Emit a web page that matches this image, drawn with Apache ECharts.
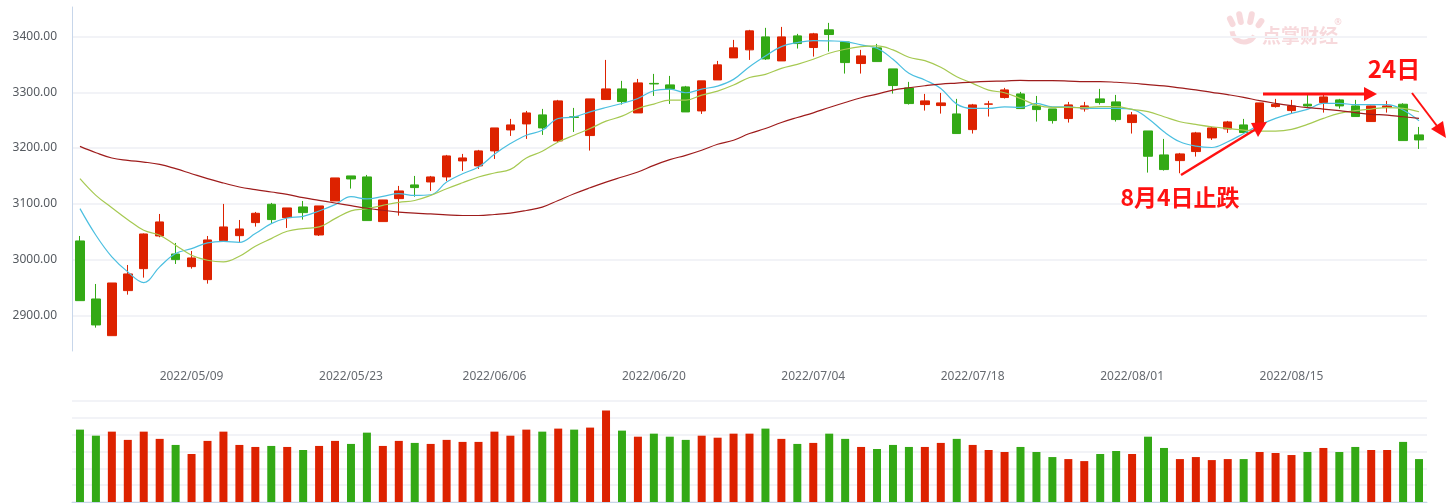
<!DOCTYPE html>
<html><head><meta charset="utf-8">
<script src="https://cdn.jsdelivr.net/npm/echarts/dist/echarts.min.js"></script>
<style>html,body{margin:0;padding:0;background:#fff}#c{width:1451px;height:503px}</style>
</head><body><div id="c"></div>
<script>
const dates = ['2022/04/25','2022/04/26','2022/04/27','2022/04/28','2022/04/29',
'2022/05/05','2022/05/06','2022/05/09','2022/05/10','2022/05/11','2022/05/12','2022/05/13','2022/05/16','2022/05/17','2022/05/18','2022/05/19','2022/05/20','2022/05/23','2022/05/24','2022/05/25','2022/05/26','2022/05/27','2022/05/30','2022/05/31',
'2022/06/01','2022/06/02','2022/06/06','2022/06/07','2022/06/08','2022/06/09','2022/06/10','2022/06/13','2022/06/14','2022/06/15','2022/06/16','2022/06/17','2022/06/20','2022/06/21','2022/06/22','2022/06/23','2022/06/24','2022/06/27','2022/06/28','2022/06/29','2022/06/30',
'2022/07/01','2022/07/04','2022/07/05','2022/07/06','2022/07/07','2022/07/08','2022/07/11','2022/07/12','2022/07/13','2022/07/14','2022/07/15','2022/07/18','2022/07/19','2022/07/20','2022/07/21','2022/07/22','2022/07/25','2022/07/26','2022/07/27','2022/07/28','2022/07/29',
'2022/08/01','2022/08/02','2022/08/03','2022/08/04','2022/08/05','2022/08/08','2022/08/09','2022/08/10','2022/08/11','2022/08/12','2022/08/15','2022/08/16','2022/08/17','2022/08/18','2022/08/19','2022/08/22','2022/08/23','2022/08/24','2022/08/25'];

const openP = [3033.4,2929.3,2863.5,2944.3,2983.7,3042.3,3010.0,2987.3,2964.0,3034.0,3042.9,3066.3,3099.2,3075.2,3094.4,3044.1,3105.1,3150.0,3148.2,3068.1,3109.3,3133.9,3139.2,3148.2,3176.9,3168.0,3194.9,3232.5,3243.3,3259.5,3212.8,3256.0,3222.4,3287.0,3306.1,3263.0,3316.0,3313.3,3309.7,3266.6,3322.2,3361.7,3376.1,3399.4,3356.3,3401.2,3380.3,3412.0,3390.4,3351.6,3379.7,3342.0,3307.9,3278.0,3276.2,3261.2,3233.1,3278.6,3290.6,3297.1,3275.6,3270.2,3252.9,3270.2,3288.2,3282.8,3245.7,3230.7,3187.7,3177.5,3193.7,3218.2,3234.3,3241.5,3239.7,3274.4,3267.2,3278.6,3281.6,3286.4,3275.6,3247.5,3272.6,3278.6,3223.6];
const closeP = [2926.3,2882.7,2958.0,2974.2,3045.9,3067.5,2999.9,3002.9,3035.2,3058.5,3054.9,3083.0,3071.7,3092.6,3084.2,3096.2,3146.4,3144.6,3069.9,3106.9,3123.1,3129.1,3148.2,3185.9,3182.3,3194.9,3236.1,3241.5,3263.0,3236.1,3284.6,3255.0,3288.2,3306.1,3283.4,3316.9,3315.0,3306.1,3264.8,3320.5,3349.2,3379.7,3410.2,3359.9,3399.4,3387.4,3404.8,3403.6,3353.3,3365.3,3355.1,3312.1,3279.8,3284.6,3281.0,3226.0,3277.4,3279.2,3304.3,3270.8,3269.0,3249.3,3277.4,3275.6,3281.6,3251.1,3259.5,3185.3,3161.4,3189.5,3227.2,3236.1,3246.9,3227.8,3281.0,3278.6,3275.6,3275.6,3291.7,3275.6,3256.5,3275.6,3275.6,3213.4,3214.6];
const lowP = [2926.3,2877.9,2863.5,2937.1,2967.6,3040.0,2992.1,2983.7,2956.8,3034.0,3031.6,3059.1,3063.9,3056.7,3071.7,3042.3,3105.1,3127.3,3069.9,3068.1,3078.8,3112.7,3123.1,3141.0,3159.0,3162.6,3180.5,3221.8,3216.4,3223.6,3211.0,3228.9,3195.5,3287.0,3278.0,3263.0,3293.5,3279.2,3264.8,3261.2,3322.2,3361.7,3358.1,3358.1,3356.3,3378.5,3364.1,3373.1,3333.6,3333.6,3355.1,3297.7,3278.0,3267.2,3261.8,3226.0,3226.0,3256.5,3288.8,3270.8,3247.5,3243.9,3245.7,3265.4,3278.0,3247.5,3226.0,3156.0,3159.6,3154.8,3184.7,3214.6,3227.2,3227.8,3237.5,3272.6,3261.8,3273.8,3263.6,3270.8,3256.5,3247.5,3263.6,3213.4,3198.4];
const highP = [3042.3,2956.2,2958.0,2990.3,3046.8,3081.8,3029.8,3015.4,3042.3,3099.8,3071.0,3085.4,3101.6,3092.6,3105.1,3096.2,3146.4,3150.0,3151.8,3107.0,3132.1,3150.0,3150.0,3187.7,3189.5,3196.7,3236.1,3252.3,3266.6,3270.2,3286.4,3272.0,3288.2,3358.1,3320.5,3324.0,3333.0,3329.4,3311.5,3320.5,3356.3,3394.0,3412.0,3415.6,3417.3,3404.8,3406.6,3424.5,3390.4,3376.1,3386.8,3342.0,3318.7,3297.1,3298.9,3288.2,3279.2,3284.6,3307.9,3300.7,3293.5,3270.2,3282.8,3282.8,3306.1,3295.3,3264.8,3230.7,3216.4,3191.3,3229.0,3237.9,3248.7,3252.3,3281.0,3288.2,3286.4,3295.3,3295.3,3288.2,3286.4,3276.0,3284.6,3280.4,3237.9];

const ma5 = [3091.3,3043.6,3004.8,2977.9,2958.8,2986.9,3010.7,3019.7,3029.9,3032.8,3031.0,3046.6,3064.5,3074.6,3077.6,3087.2,3098.5,3112.8,3108.7,3113.4,3118.2,3115.0,3116.2,3139.0,3154.0,3166.0,3188.8,3208.0,3223.0,3232.0,3253.0,3256.0,3265.0,3272.8,3280.0,3289.0,3302.8,3305.8,3299.2,3305.8,3311.2,3323.2,3346.0,3365.2,3382.0,3389.2,3392.8,3392.2,3391.0,3385.0,3379.0,3359.2,3334.0,3322.0,3307.0,3278.8,3271.0,3271.0,3274.0,3272.8,3280.0,3274.0,3274.0,3271.5,3271.2,3271.2,3269.4,3253.2,3229.2,3211.2,3203.4,3201.0,3211.2,3226.2,3241.2,3253.2,3262.2,3269.4,3280.2,3280.2,3277.8,3277.8,3277.8,3268.2,3249.0];
const ma10 = [3145.1,3115.2,3093.1,3071.6,3052.5,3043.6,3025.7,3007.8,2998.8,2995.8,3006.0,3023.9,3037.6,3050.7,3055.5,3058.5,3073.4,3087.2,3091.3,3097.3,3102.5,3106.0,3115.0,3127.0,3137.8,3148.0,3155.2,3161.8,3182.2,3194.2,3211.0,3223.0,3235.0,3248.2,3257.2,3271.0,3278.8,3286.0,3286.0,3295.0,3302.2,3313.0,3326.5,3332.2,3343.0,3350.2,3359.2,3370.0,3377.2,3382.0,3383.2,3376.0,3362.8,3356.8,3344.8,3328.0,3316.0,3304.0,3299.2,3289.0,3277.0,3272.8,3272.8,3272.5,3274.2,3274.2,3269.4,3265.2,3256.2,3247.2,3242.4,3238.2,3235.2,3232.2,3230.4,3230.4,3233.4,3242.4,3253.2,3262.2,3267.0,3270.0,3272.4,3271.2,3265.2];
const ma30 = [3203.0,3191.6,3182.1,3177.9,3174.9,3170.7,3163.0,3154.0,3145.1,3137.3,3130.1,3125.4,3121.2,3117.0,3111.0,3106.3,3101.5,3096.7,3092.0,3088.4,3085.2,3083.2,3082.0,3080.2,3079.0,3079.0,3080.8,3083.2,3088.0,3094.0,3106.0,3118.0,3128.8,3139.0,3148.0,3157.0,3169.0,3179.2,3187.0,3196.0,3206.8,3214.0,3226.0,3235.0,3245.8,3254.8,3263.2,3272.8,3281.8,3290.2,3296.8,3304.0,3308.2,3311.8,3314.8,3316.6,3318.4,3319.6,3320.2,3321.4,3320.8,3320.8,3320.2,3319.2,3319.2,3318.0,3316.2,3313.8,3311.4,3307.8,3304.2,3300.0,3295.8,3291.0,3285.0,3280.2,3276.0,3272.4,3270.0,3267.0,3263.4,3260.4,3259.2,3256.2,3253.2];

const volume = [430,394,418,369,418,375,339,285,363,418,339,327,333,327,309,333,363,345,412,333,363,351,345,369,357,357,418,394,430,418,436,430,442,544,424,388,406,388,369,394,382,406,406,436,375,345,351,406,375,327,315,339,327,327,351,375,339,309,297,327,297,267,255,243,285,303,285,388,321,255,267,249,255,255,297,291,279,297,321,297,327,309,309,357,255];

const xTickLabels = ['2022/05/09','2022/05/23','2022/06/06','2022/06/20','2022/07/04','2022/07/18','2022/08/01','2022/08/15'];
const yTickValues = [2900,3000,3100,3200,3300,3400];

const UP = '#dd2200', DOWN = '#33a915';
const candleData = dates.map((d,i)=>[openP[i],closeP[i],lowP[i],highP[i]]);
const volData = volume.map((v,i)=>({value:v,itemStyle:{color: closeP[i]>=openP[i]?UP:DOWN}}));

const chart = echarts.init(document.getElementById('c'));
const splitStyle = {show:true, lineStyle:{color:'#f2f3f7', width:2}};
const ANN = '#ff1111';
const WM = 'rgba(228,130,140,0.30)';
chart.setOption({
  animation:false,
  backgroundColor:'#ffffff',
  grid:[{left:72,right:24,top:7,height:344},{left:72,right:24,top:401,height:101}],
  xAxis:[
    {type:'category',gridIndex:0,data:dates,boundaryGap:true,
     axisLine:{show:false},axisTick:{show:false},splitLine:{show:false},
     axisLabel:{show:true,margin:20,color:'#666a70',fontSize:12,fontFamily:'"Noto Sans", sans-serif',
       interval:(idx,val)=>xTickLabels.includes(val)}},
    {type:'category',gridIndex:1,data:dates,boundaryGap:true,
     axisLine:{show:true,lineStyle:{color:'#c7d6ea'}},axisTick:{show:false},axisLabel:{show:false}}
  ],
  yAxis:[
    {type:'value',gridIndex:0,min:2836,max:3453,scale:true,
     axisLine:{show:true,lineStyle:{color:'#c7d6ea'}},axisTick:{show:false,customValues:yTickValues},
     axisLabel:{customValues:yTickValues,margin:15,color:'#555a60',fontSize:12,fontFamily:'"Noto Sans", sans-serif',
       formatter:v=>Number(v).toFixed(2)},
     splitLine:splitStyle},
    {type:'value',gridIndex:1,min:0,max:600,interval:100,
     axisLine:{show:false},axisTick:{show:false},axisLabel:{show:false},splitLine:splitStyle}
  ],
  series:[
    {type:'candlestick',xAxisIndex:0,yAxisIndex:0,data:candleData,barWidth:9,
     itemStyle:{color:UP,color0:DOWN,borderColor:UP,borderColor0:DOWN,borderWidth:1}},
    {type:'line',name:'MA5',data:ma5,showSymbol:false,smooth:0.4,lineStyle:{color:'#4bbfe0',width:1.2},z:3},
    {type:'line',name:'MA10',data:ma10,showSymbol:false,smooth:0.4,lineStyle:{color:'#a6c952',width:1.2},z:3},
    {type:'line',name:'MA30',data:ma30,showSymbol:false,smooth:0.4,lineStyle:{color:'#9e1c1c',width:1.2},z:3},
    {type:'bar',xAxisIndex:1,yAxisIndex:1,data:volData,barWidth:8}
  ],
  graphic:[
    // watermark logo (stylised hand)
    {type:'group',silent:true,z:1,children:[
      {type:'rect',x:1233,y:25,rotation:0.45,shape:{x:-3,y:-10,width:6,height:12,r:3},style:{fill:WM}},
      {type:'rect',x:1241,y:23,rotation:0.2,shape:{x:-3,y:-12,width:6,height:14,r:3},style:{fill:WM}},
      {type:'rect',x:1250,y:23,rotation:-0.2,shape:{x:-3,y:-12,width:6,height:14,r:3},style:{fill:WM}},
      {type:'rect',x:1258,y:26,rotation:-0.6,shape:{x:-3,y:-9,width:6,height:11,r:3},style:{fill:WM}},
      {type:'arc',shape:{cx:1244,cy:30,r:12,startAngle:0.5,endAngle:Math.PI-0.1},style:{stroke:WM,lineWidth:5,fill:null}},
      {type:'text',style:{text:'点掌财经',x:1262,y:36,font:'bold 19px "Noto Sans CJK SC"',fill:WM,textVerticalAlign:'middle',verticalAlign:'middle'}},
      {type:'text',style:{text:'®',x:1338,y:22,font:'9px "Noto Sans"',fill:'rgba(228,130,140,0.4)',textAlign:'center',align:'center',textVerticalAlign:'middle',verticalAlign:'middle'}}
    ]},
    // 8月4日 arrow
    {type:'polyline',z:10,shape:{points:[[1181,175],[1256,129]]},style:{stroke:ANN,lineWidth:2.5}},
    {type:'polygon',z:10,shape:{points:[[1267,122],[1251,123],[1258,137]]},style:{fill:ANN}},
    {type:'text',z:10,style:{text:'8月4日止跌',x:1180,y:197,font:'bold 23px "Noto Sans CJK SC"',fill:ANN,textAlign:'center',align:'center',textVerticalAlign:'middle',verticalAlign:'middle'}},
    // horizontal arrow
    {type:'polyline',z:10,shape:{points:[[1263,94],[1366,94]]},style:{stroke:ANN,lineWidth:3}},
    {type:'polygon',z:10,shape:{points:[[1377,94],[1364,87],[1364,101]]},style:{fill:ANN}},
    // 24日
    {type:'text',z:10,style:{text:'24日',x:1394,y:69,font:'bold 24px "Noto Sans CJK SC"',fill:ANN,textAlign:'center',align:'center',textVerticalAlign:'middle',verticalAlign:'middle'}},
    {type:'polyline',z:10,shape:{points:[[1412,93],[1437,126]]},style:{stroke:ANN,lineWidth:2}},
    {type:'polygon',z:10,shape:{points:[[1446,138],[1443,121],[1431,129]]},style:{fill:ANN}}
  ]
});
</script></body></html>
